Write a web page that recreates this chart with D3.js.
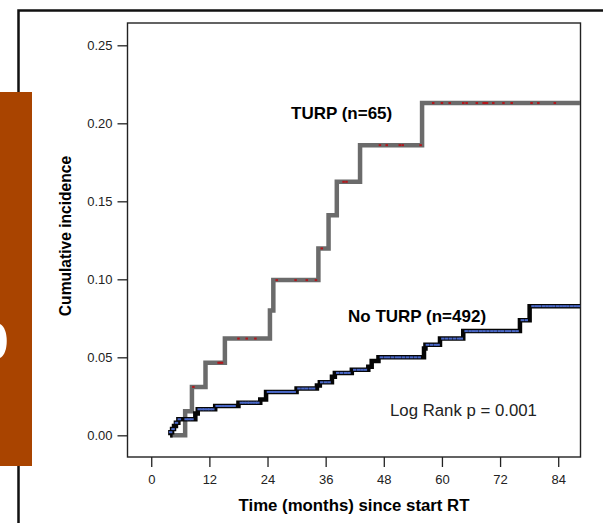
<!DOCTYPE html>
<html>
<head>
<meta charset="utf-8">
<script src="https://cdn.jsdelivr.net/npm/d3@7"></script>
<style>
  body { margin: 0; background: #fff; }
  svg { display: block; font-family: "Liberation Sans", Arial, sans-serif; }
</style>
</head>
<body>
<div id="chart"></div>
<script>
/*
 * Data
 */

// step curves: [time in months, cumulative incidence]
const turpSteps = [
  [3.9, 0], [7.0, 0.0154], [8.4, 0.031], [11.2, 0.0465], [15.2, 0.062],
  [24.5, 0.080], [25.2, 0.0995], [34.5, 0.1198], [36.6, 0.141],
  [38.3, 0.1625], [43.1, 0.186], [55.9, 0.213], [88.5, 0.213]
]

const noTurpSteps = [
  [3.9, 0], [3.95, 0.002], [4.3, 0.004], [4.7, 0.006], [5.1, 0.008],
  [5.6, 0.0103], [9.1, 0.014], [9.6, 0.0167], [13.2, 0.0188],
  [18.0, 0.0209], [22.5, 0.023], [23.7, 0.0278], [30.0, 0.030],
  [34.2, 0.032], [34.8, 0.034], [37.3, 0.0376], [37.9, 0.040],
  [41.4, 0.042], [44.8, 0.044], [45.5, 0.0476], [46.9, 0.050],
  [56.3, 0.0557], [56.6, 0.058], [59.6, 0.062], [64.4, 0.0668],
  [76.1, 0.0738], [78.1, 0.0828], [88.5, 0.0828]
]

// censoring times (months)
const turpCensored = [
  8.7, 13.9, 14.2, 14.6, 18.0, 19.7, 21.5, 25.9, 29.8, 32.1, 34.0, 35.2,
  39.7, 40.3, 47.2, 48.6, 51.3, 51.9, 55.6, 58.2, 60.0, 61.6, 64.4, 65.1,
  67.2, 68.6, 68.9, 69.3, 70.6, 72.7, 74.4, 78.5, 79.9, 83.3
]

const noTurpCensored = [
  4.0, 4.5, 5.2, 5.8, 7.2, 7.8, 8.4, 9.9, 10.5, 11.0, 11.6, 12.1, 12.7,
  13.6, 14.2, 14.8, 15.4, 15.9, 16.5, 17.1, 18.6, 19.2, 19.8, 20.3, 20.9,
  21.5, 22.0, 24.2, 24.8, 25.3, 25.9, 26.5, 27.1, 27.7, 28.3, 28.9, 29.5,
  30.5, 31.3, 32.0, 32.8, 33.5, 35.2, 36.0, 36.7, 38.5, 39.3, 40.1, 40.8,
  42.0, 42.8, 43.5, 44.2, 47.5, 48.3, 49.0, 49.8, 50.6, 51.3, 52.1, 52.9,
  53.7, 54.5, 55.3, 57.0, 57.8, 58.6, 59.2, 60.2, 61.0, 61.8, 62.6, 63.4,
  64.0, 65.0, 65.8, 66.5, 67.2, 68.0, 68.7, 69.5, 70.3, 71.0, 71.8, 72.5,
  73.3, 74.0, 74.8, 75.5, 76.6, 77.4, 78.8, 79.5, 80.2, 81.0, 81.7, 82.4,
  83.1, 83.9, 84.6, 85.3, 86.0, 86.8, 87.5, 88.2
]

const xTicks = [0, 12, 24, 36, 48, 60, 72, 84]
const yTicks = [0, 0.05, 0.10, 0.15, 0.20, 0.25]


/*
 * Layout
 */

const w = 603
const h = 523
const frame = { left: 127.5, right: 580.5, top: 23, bottom: 457 }

const x = d3.scaleLinear().domain([-4.9, 88.6]).range([frame.left, frame.right])
const y = d3.scaleLinear().domain([-0.0139, 0.2643]).range([frame.bottom, frame.top])

const svg = d3.select('#chart')
  .append('svg')
  .attr('width', w)
  .attr('height', h)

// page decoration: outer box and the coloured side tab
svg.append('path')
  .attr('d', `M18.5,${h} V10.5 H${w}`)
  .attr('fill', 'none')
  .attr('stroke', '#111')
  .attr('stroke-width', 2.5)

svg.append('rect')
  .attr('x', 0).attr('y', 92)
  .attr('width', 32).attr('height', 374)
  .attr('fill', '#a94400')

// white fragment of a glyph clipped at the page edge
svg.append('path')
  .attr('d', 'M0,324 C9,328 9,354 0,358 Z')
  .attr('fill', '#fff')


/*
 * Axes
 */

const yAxis = svg.append('g')
  .attr('transform', `translate(${frame.left},0)`)
  .call(d3.axisLeft(y).tickValues(yTicks).tickFormat(d3.format('.2f')).tickSize(10).tickPadding(5))

const xAxis = svg.append('g')
  .attr('transform', `translate(0,${frame.bottom})`)
  .call(d3.axisBottom(x).tickValues(xTicks).tickSize(10).tickPadding(8))

;[xAxis, yAxis].forEach(a => {
  a.select('.domain').remove()
  a.selectAll('line').attr('stroke', '#222').attr('stroke-width', 1.3)
  a.selectAll('text')
    .attr('fill', '#222')
    .style('font-size', '13px')
    .style('font-family', '"Liberation Sans", Arial, sans-serif')
})

svg.append('rect')
  .attr('x', frame.left).attr('y', frame.top)
  .attr('width', frame.right - frame.left)
  .attr('height', frame.bottom - frame.top)
  .attr('fill', 'none')
  .attr('stroke', '#222')
  .attr('stroke-width', 1.4)

svg.append('text')
  .attr('x', 354).attr('y', 511)
  .attr('text-anchor', 'middle')
  .style('font-size', '16.8px')
  .style('font-weight', 'bold')
  .text('Time (months) since start RT')

svg.append('text')
  .attr('transform', 'translate(71,236) rotate(-90)')
  .attr('text-anchor', 'middle')
  .style('font-size', '15.6px')
  .style('font-weight', 'bold')
  .text('Cumulative incidence')


/*
 * Curves
 */

svg.append('clipPath')
  .attr('id', 'plot-clip')
  .append('rect')
  .attr('x', frame.left).attr('y', frame.top)
  .attr('width', frame.right - frame.left)
  .attr('height', frame.bottom - frame.top)

const plot = svg.append('g').attr('clip-path', 'url(#plot-clip)')

const stepLine = d3.line()
  .x(d => x(d[0]))
  .y(d => y(d[1]))
  .curve(d3.curveStepAfter)

// value of a step curve at time t
function valueAt(steps, t) {
  let v = 0
  steps.forEach(s => { if (s[0] <= t) v = s[1] })
  return v
}

function drawCurve(steps, censored, lineColor, markColor, markW) {
  plot.append('path')
    .datum(steps)
    .attr('d', stepLine)
    .attr('fill', 'none')
    .attr('stroke', lineColor)
    .attr('stroke-width', 4.5)

  plot.append('g')
    .selectAll('rect')
    .data(censored)
    .enter()
    .append('rect')
    .attr('x', d => x(d) - markW / 2)
    .attr('y', d => y(valueAt(steps, d)) - 1)
    .attr('width', markW)
    .attr('height', 2)
    .attr('fill', markColor)
}

drawCurve(turpSteps, turpCensored, '#6b6b6b', '#b4161b', 2.5)
drawCurve(noTurpSteps, noTurpCensored, '#050505', '#4a68c8', 3.5)


/*
 * Annotations
 */

svg.append('text')
  .attr('x', 291).attr('y', 119)
  .style('font-size', '17px')
  .style('font-weight', 'bold')
  .text('TURP (n=65)')

svg.append('text')
  .attr('x', 348).attr('y', 322)
  .style('font-size', '17px')
  .style('font-weight', 'bold')
  .text('No TURP (n=492)')

svg.append('text')
  .attr('x', 390).attr('y', 416)
  .style('font-size', '16.8px')
  .attr('fill', '#222')
  .text('Log Rank p = 0.001')
</script>
</body>
</html>
